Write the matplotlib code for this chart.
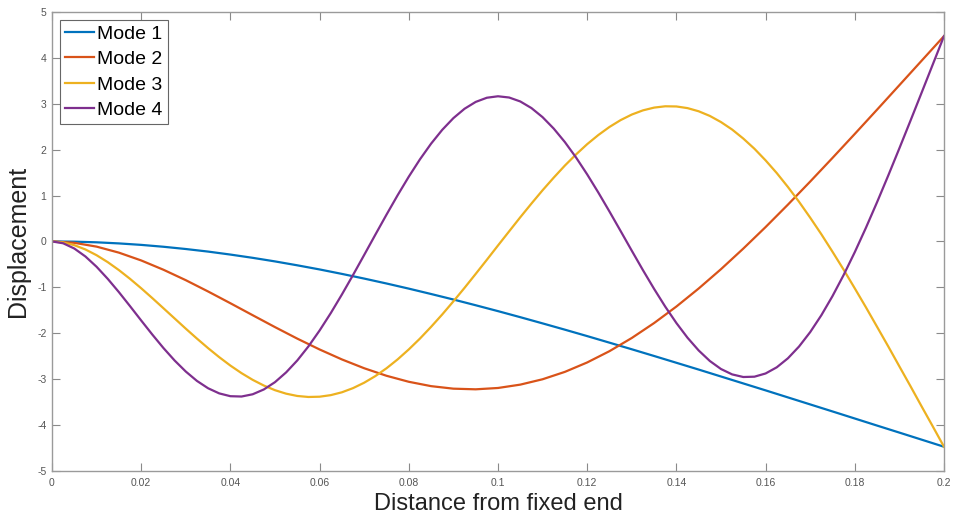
import numpy as np
import matplotlib
matplotlib.use("Agg")
import matplotlib.pyplot as plt

plt.rcParams['font.family'] = ['Liberation Sans', 'DejaVu Sans']

# distance along the beam (m): 5 mm steps for modes 1-2, 2.5 mm for modes 3-4
x = np.linspace(0, 0.2, 41)
x_fine = np.linspace(0, 0.2, 81)

# mode shape displacements
mode1 = [0, -0.005, -0.019, -0.043, -0.075, -0.116, -0.165, -0.221, -0.286, -0.357,
         -0.435, -0.520, -0.610, -0.707, -0.809, -0.916, -1.028, -1.145, -1.265, -1.390,
         -1.518, -1.650, -1.785, -1.922, -2.062, -2.205, -2.349, -2.495, -2.643, -2.791,
         -2.942, -3.093, -3.244, -3.397, -3.550, -3.703, -3.857, -4.011, -4.164, -4.318,
         -4.472]
mode2 = [0, -0.030, -0.113, -0.244, -0.414, -0.617, -0.844, -1.090, -1.346, -1.607,
         -1.866, -2.117, -2.353, -2.570, -2.762, -2.926, -3.057, -3.152, -3.207, -3.221,
         -3.192, -3.119, -3.002, -2.841, -2.636, -2.390, -2.103, -1.778, -1.418, -1.025,
         -0.604, -0.156, 0.313, 0.801, 1.304, 1.819, 2.342, 2.871, 3.404, 3.938,
         4.472]
mode3 = [0, -0.021, -0.081, -0.175, -0.300, -0.451, -0.624, -0.815, -1.020, -1.235,
         -1.456, -1.678, -1.900, -2.116, -2.324, -2.521, -2.704, -2.869, -3.015, -3.139,
         -3.240, -3.316, -3.366, -3.388, -3.382, -3.348, -3.286, -3.195, -3.077, -2.933,
         -2.763, -2.569, -2.352, -2.116, -1.860, -1.590, -1.305, -1.011, -0.707, -0.400,
         -0.088, 0.220, 0.527, 0.825, 1.115, 1.390, 1.653, 1.895, 2.119, 2.318,
         2.494, 2.643, 2.764, 2.855, 2.915, 2.944, 2.940, 2.904, 2.835, 2.734,
         2.600, 2.437, 2.241, 2.019, 1.766, 1.490, 1.187, 0.864, 0.518, 0.157,
         -0.224, -0.615, -1.022, -1.435, -1.860, -2.286, -2.722, -3.155, -3.596, -4.031,
         -4.472]
mode4 = [0, -0.040, -0.154, -0.328, -0.552, -0.815, -1.104, -1.410, -1.722, -2.029,
         -2.323, -2.594, -2.834, -3.038, -3.198, -3.310, -3.371, -3.378, -3.329, -3.224,
         -3.065, -2.852, -2.592, -2.286, -1.940, -1.562, -1.156, -0.731, -0.294, 0.147,
         0.583, 1.007, 1.411, 1.788, 2.130, 2.431, 2.686, 2.890, 3.039, 3.130,
         3.162, 3.135, 3.049, 2.905, 2.707, 2.458, 2.164, 1.829, 1.460, 1.065,
         0.651, 0.226, -0.202, -0.625, -1.033, -1.420, -1.777, -2.098, -2.375, -2.604,
         -2.779, -2.896, -2.953, -2.946, -2.876, -2.742, -2.546, -2.289, -1.975, -1.608,
         -1.191, -0.731, -0.233, 0.298, 0.856, 1.435, 2.029, 2.633, 3.244, 3.858,
         4.472]

labels = ['Mode 1', 'Mode 2', 'Mode 3', 'Mode 4']
colors = ['#0072BD', '#D95319', '#EDB120', '#7E2F8E']

xticks = [0, 0.02, 0.04, 0.06, 0.08, 0.1, 0.12, 0.14, 0.16, 0.18, 0.2]
xtick_labels = ['0', '0.02', '0.04', '0.06', '0.08', '0.1', '0.12', '0.14', '0.16', '0.18', '0.2']
yticks = [-5, -4, -3, -2, -1, 0, 1, 2, 3, 4, 5]

fig = plt.figure(figsize=(9.54, 5.17), dpi=100)
ax = fig.add_axes([0.0545, 0.089, 0.935, 0.888])

series = [(x, mode1), (x, mode2), (x_fine, mode3), (x_fine, mode4)]
for (xs, ys), c, lab in zip(series, colors, labels):
    ax.plot(xs, ys, color=c, lw=1.6, label=lab)

ax.set_xlim(0, 0.2)
ax.set_ylim(-5, 5)
ax.set_xticks(xticks)
ax.set_xticklabels(xtick_labels)
ax.set_yticks(yticks)
ax.set_yticklabels([str(v) for v in yticks])

ax.tick_params(direction='in', top=True, right=True, length=5.5, width=0.8,
               color='#8a8a8a', labelcolor='#555555', labelsize=7.5)
ax.tick_params(axis='x', pad=5)
ax.tick_params(axis='y', pad=4)
for s in ax.spines.values():
    s.set_color('#9a9a9a')
    s.set_linewidth(1.0)

ax.set_xlabel('Distance from fixed end', fontsize=17, color='#222222', labelpad=4)
ax.set_ylabel('Displacement', fontsize=18, color='#222222', labelpad=5)

leg = ax.legend(loc='upper left', fontsize=14, frameon=True, fancybox=False,
                edgecolor='#666666', framealpha=1, handlelength=1.5,
                handletextpad=0.15, labelspacing=0.40, borderpad=0.28,
                borderaxespad=0.4)
leg.get_frame().set_linewidth(0.8)

fig.savefig('out.png', dpi=100)
